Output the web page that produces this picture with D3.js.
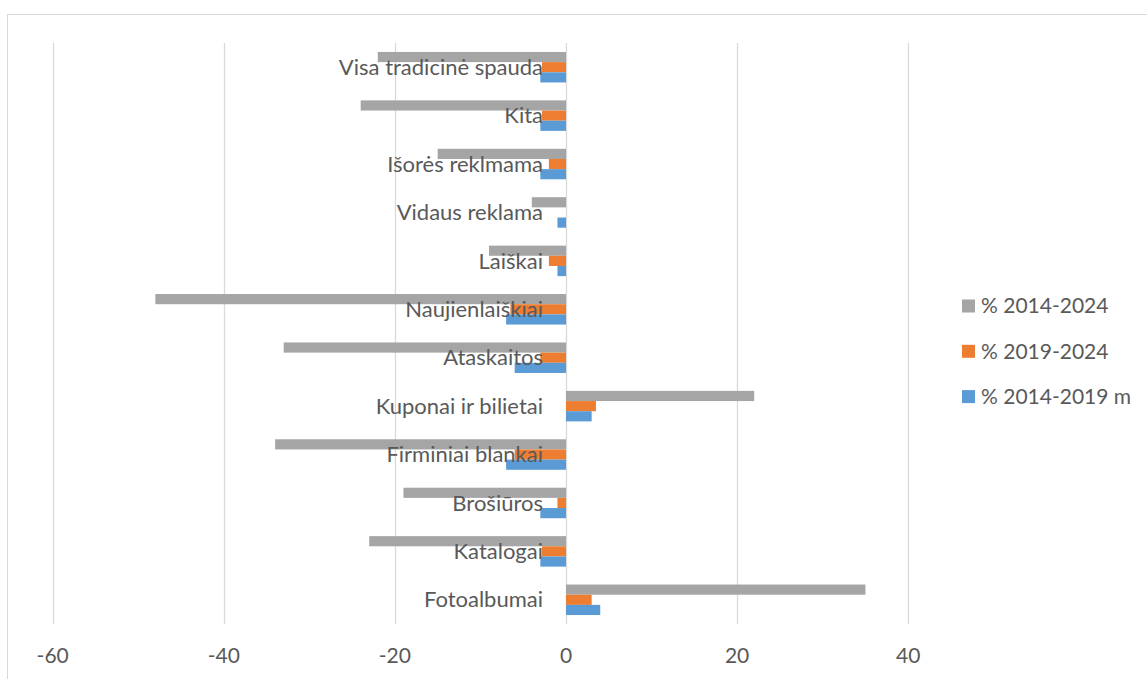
<!DOCTYPE html>
<meta charset="utf-8">
<title>Spaudos pokyčiai</title>
<style>
body { margin: 0; background: #fff; }
text { font-family: Lato, "Open Sans", sans-serif; fill: #595959; }
</style>
<body>
<script src="https://cdn.jsdelivr.net/npm/d3@7"></script>
<script>

// categories, top to bottom as drawn
var categories = ["Visa tradicinė spauda", "Kita", "Išorės reklmama", "Vidaus reklama",
  "Laiškai", "Naujienlaiškiai", "Ataskaitos", "Kuponai ir bilietai",
  "Firminiai blankai", "Brošiūros", "Katalogai", "Fotoalbumai"];

var seriesNames = ["% 2014-2024", "% 2019-2024", "% 2014-2019 m"];
var seriesColors = ["#a5a5a5", "#ed7d31", "#5b9bd5"];

// values per series, same order as categories
var v2014_2024 = [-22, -24, -15, -4, -9, -48, -33, 22, -34, -19, -23, 35];
var v2019_2024 = [-2.8, -2.8, -2, 0, -2, -6.5, -3, 3.5, -6, -1, -2.8, 3];
var v2014_2019 = [-3, -3, -3, -1, -1, -7, -6, 3, -7, -3, -3, 4];

var xTicks = [-60, -40, -20, 0, 20, 40];

var W = 1147, H = 679;

var svg = d3.select("body").append("svg")
    .attr("width", W)
    .attr("height", H);

// chart outline (cropped at right and bottom)
svg.append("rect")
    .attr("x", 7.5).attr("y", 14.5)
    .attr("width", 1200).attr("height", 700)
    .attr("fill", "none")
    .attr("stroke", "#d9d9d9");

var x = d3.scaleLinear().domain([-60, 40]).range([52.7, 908.2]);

var y0 = d3.scaleBand()
    .domain(categories)
    .range([43, 624])
    .paddingInner(0.37)
    .paddingOuter(0.185);

var y1 = d3.scaleBand()
    .domain(seriesNames)
    .range([0, y0.bandwidth()]);

// gridlines
svg.append("g").selectAll("line")
    .data(xTicks)
    .enter().append("line")
    .attr("x1", function(d) { return Math.round(x(d)) + 0.5; })
    .attr("x2", function(d) { return Math.round(x(d)) + 0.5; })
    .attr("y1", 43)
    .attr("y2", 624)
    .attr("stroke", "#d9d9d9")
    .attr("stroke-width", 1.3);

// tick labels
svg.append("g").selectAll("text")
    .data(xTicks)
    .enter().append("text")
    .attr("x", function(d) { return x(d); })
    .attr("y", 656)
    .attr("dy", "0.35em")
    .attr("text-anchor", "middle")
    .style("font-size", "21px")
    .text(function(d) { return d; });

var allSeries = [v2014_2024, v2019_2024, v2014_2019];

// bars
var groups = svg.append("g").selectAll("g")
    .data(categories)
    .enter().append("g")
    .attr("transform", function(d) { return "translate(0," + y0(d) + ")"; });

groups.selectAll("rect")
    .data(function(d, i) {
      return seriesNames.map(function(s, j) {
        return { series: s, value: allSeries[j][i], color: seriesColors[j] };
      });
    })
    .enter().append("rect")
    .attr("x", function(d) { return x(Math.min(0, d.value)); })
    .attr("y", function(d) { return y1(d.series); })
    .attr("width", function(d) { return Math.abs(x(d.value) - x(0)); })
    .attr("height", y1.bandwidth())
    .attr("fill", function(d) { return d.color; });

// category labels (drawn over the bars)
svg.append("g").selectAll("text")
    .data(categories)
    .enter().append("text")
    .attr("x", 543)
    .attr("y", function(d) { return y0(d) + y0.bandwidth() / 2; })
    .attr("dy", "0.35em")
    .attr("text-anchor", "end")
    .style("font-size", "22px")
    .text(function(d) { return d; });

// legend
var legend = svg.append("g").selectAll("g")
    .data(seriesNames)
    .enter().append("g")
    .attr("transform", function(d, i) { return "translate(962," + (306 + i * 45.3) + ")"; });

legend.append("rect")
    .attr("x", 0).attr("y", -6.5)
    .attr("width", 13).attr("height", 13)
    .attr("fill", function(d, i) { return seriesColors[i]; });

legend.append("text")
    .attr("x", 19)
    .attr("y", 0)
    .attr("dy", "0.35em")
    .style("font-size", "21px")
    .text(function(d) { return d; });

</script>
</body>
